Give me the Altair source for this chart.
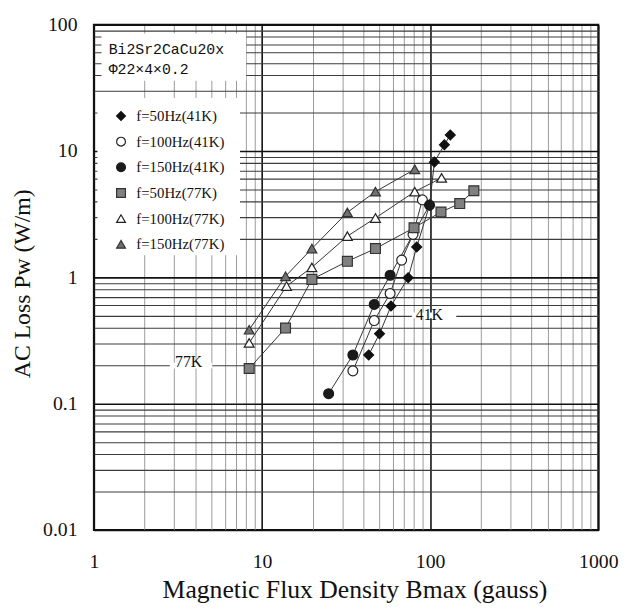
import altair as alt
import pandas as pd

# ---------------- data ----------------
series_names = ["f=50Hz(41K)", "f=100Hz(41K)", "f=150Hz(41K)",
                "f=50Hz(77K)", "f=100Hz(77K)", "f=150Hz(77K)"]

b_50_41 = [43.1, 50.0, 58.5, 74.0, 83.2, 99.2, 106, 121.5, 131.8]
p_50_41 = [0.243, 0.358, 0.593, 0.993, 1.74, 3.73, 8.18, 11.2, 13.4]

b_100_41 = [34.7, 46.5, 57.8, 67.7, 79.1, 89.9]
p_100_41 = [0.182, 0.455, 0.745, 1.37, 2.19, 4.11]

b_150_41 = [24.9, 34.7, 46.5, 57.8, 99.2]
p_150_41 = [0.120, 0.243, 0.611, 1.04, 3.73]

b_50_77 = [8.39, 13.8, 19.8, 32.2, 47.3, 80.2, 116, 150, 182]
p_50_77 = [0.190, 0.397, 0.964, 1.34, 1.69, 2.47, 3.29, 3.84, 4.85]

b_100_77 = [8.39, 14.0, 19.8, 32.2, 47.3, 81.0, 117]
p_100_77 = [0.303, 0.853, 1.20, 2.12, 2.95, 4.77, 6.13]

b_150_77 = [8.39, 13.8, 19.8, 32.2, 47.3, 81.0]
p_150_77 = [0.385, 1.02, 1.69, 3.27, 4.77, 7.17]

marker_shapes = ["diamond", "circle", "circle", "square", "triangle-up", "triangle-up"]
marker_fills = ["#111111", "#ffffff", "#1a1a1a", "#808080", "#ffffff", "#707070"]
marker_strokes = ["#111111", "#222222", "#1a1a1a", "#333333", "#222222", "#333333"]

# annotation texts
ann_text = ["Bi2Sr2CaCu20x", "\u03a622\u00d74\u00d70.2"]
ann_b = [1.225, 1.225]
ann_p = [64.6, 44.3]

# curve labels
lab_text = ["77K", "41K"]
lab_b = [3.66, 99.0]
lab_p = [0.212, 0.5]

# white boxes (annotation box, legend box, label gaps) in data units
box_x0 = [1.11, 1.05, 2.83, 77.8]
box_x1 = [8.05, 7.4, 5.07, 143]
box_y0 = [36, 1.5, 0.19, 0.474]
box_y1 = [85, 26.3, 0.211, 0.527]

x_ticks = [round(k * 10 ** e, 6) for e in range(0, 3) for k in range(1, 10)] + [1000]
y_ticks = [round(k * 10.0 ** e, 6) for e in range(-2, 2) for k in range(1, 10)] + [100]

# ---------------- tables ----------------
rows = []
all_b = [b_50_41, b_100_41, b_150_41, b_50_77, b_100_77, b_150_77]
all_p = [p_50_41, p_100_41, p_150_41, p_50_77, p_100_77, p_150_77]
for name, bs, ps in zip(series_names, all_b, all_p):
    for i, (b, p) in enumerate(zip(bs, ps)):
        rows.append({"series": name, "B": b, "P": p, "order": i})
df = pd.DataFrame(rows)

ann_df = pd.DataFrame({"t": ann_text, "B": ann_b, "P": ann_p})
lab_df = pd.DataFrame({"t": lab_text, "B": lab_b, "P": lab_p})
box_df = pd.DataFrame({"x0": box_x0, "x1": box_x1, "y0": box_y0, "y1": box_y1})

# ---------------- scales & axes ----------------
SERIF = "Liberation Serif"
decade = "abs(log(datum.value)/LN10 - round(log(datum.value)/LN10)) < 0.001"

xscale = alt.Scale(type="log", domain=[1, 1000], nice=False)
yscale = alt.Scale(type="log", domain=[0.01, 100], nice=False)

x_axis = alt.Axis(
    values=x_ticks, format="~g", labelExpr=f"{decade} ? datum.label : ''",
    title="Magnetic Flux Density Bmax (gauss)",
    grid=True,
    gridColor={"condition": {"test": decade, "value": "#111111"}, "value": "#9a9a9a"},
    gridWidth={"condition": {"test": decade, "value": 1.6}, "value": 1},
    ticks=False, tickSize=0, domain=False,
    labelPadding=22, labelFontSize=20, labelFont=SERIF, labelColor="#111",
    labelOverlap=False, labelFlush=False, labelBound=False,
    titleFont=SERIF, titleFontSize=26, titleFontWeight="normal", titleColor="#111",
    titleX=264, titleY=68, titleAlign="center", titleBaseline="alphabetic",
)
y_axis = alt.Axis(
    values=y_ticks, format="~g", labelExpr=f"{decade} ? datum.label : ''",
    title="AC Loss Pw (W/m)",
    grid=True,
    gridColor={"condition": {"test": decade, "value": "#111111"}, "value": "#3c3c3c"},
    gridWidth={"condition": {"test": decade, "value": 1.6}, "value": 1.1},
    ticks=False, tickSize=0, domain=False,
    labelPadding=17, labelFontSize=20, labelFont=SERIF, labelColor="#111",
    labelOverlap=False, labelFlush=False, labelBound=False,
    titleFont=SERIF, titleFontSize=24, titleFontWeight="normal", titleColor="#111",
    titleX=-65, titleY=262, titleAngle=-90, titleAlign="center", titleBaseline="alphabetic",
)

leg = alt.Legend(
    title=None, orient="none", legendX=20, legendY=85, padding=0,
    rowPadding=10, labelOffset=8, symbolSize=80, symbolStrokeWidth=1.2,
    labelFontSize=15, labelFont=SERIF, labelColor="#111",
)

x_enc = alt.X("B:Q", scale=xscale, axis=x_axis)
y_enc = alt.Y("P:Q", scale=yscale, axis=y_axis)

boxes = alt.Chart(box_df).mark_rect(color="white", opacity=1).encode(
    x=alt.X("x0:Q", scale=xscale, axis=x_axis),
    x2="x1:Q",
    y=alt.Y("y0:Q", scale=yscale, axis=y_axis),
    y2="y1:Q",
)

lines = alt.Chart(df).mark_line(color="#333333", strokeWidth=1).encode(
    x=x_enc, y=y_enc, detail="series:N", order="order:Q"
)

points = alt.Chart(df).mark_point(filled=True, opacity=1, size=100, strokeWidth=1.2).encode(
    x=x_enc, y=y_enc,
    shape=alt.Shape("series:N", scale=alt.Scale(domain=series_names, range=marker_shapes), legend=leg),
    fill=alt.Fill("series:N", scale=alt.Scale(domain=series_names, range=marker_fills), legend=leg),
    stroke=alt.Stroke("series:N", scale=alt.Scale(domain=series_names, range=marker_strokes), legend=leg),
)

ann = alt.Chart(ann_df).mark_text(
    font="Liberation Mono", fontSize=15, color="#111", align="left", baseline="middle"
).encode(x=x_enc, y=y_enc, text="t:N")

labs = alt.Chart(lab_df).mark_text(
    font=SERIF, fontSize=16, color="#111", align="center", baseline="middle"
).encode(x=x_enc, y=y_enc, text="t:N")

chart = alt.layer(boxes, lines, points, ann, labs).properties(
    width=511, height=512,
    autosize=alt.AutoSizeParams(type="none"),
    padding={"left": 87, "top": 13, "right": 21, "bottom": 71},
    background="white",
).configure_view(stroke="#111111", strokeWidth=2)

chart.save("out.html", embed_options={"renderer": "svg", "actions": False})
